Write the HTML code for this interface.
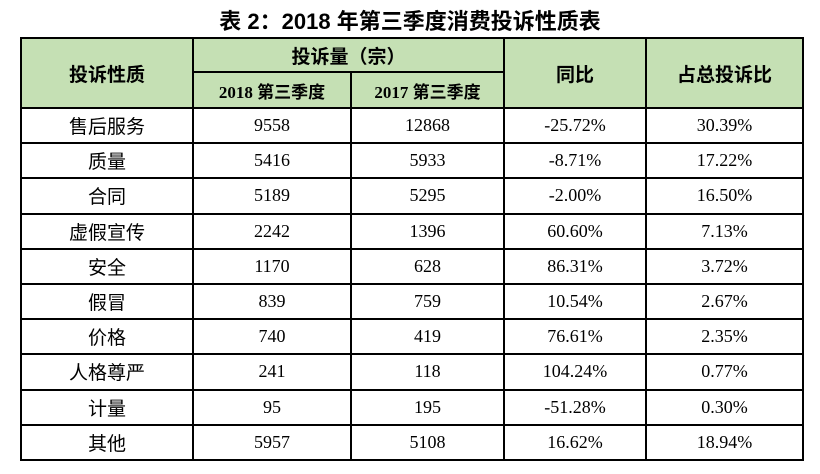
<!DOCTYPE html>
<html><head><meta charset="utf-8"><style>
body{margin:0;width:820px;height:474px;background:#fff;overflow:hidden;position:relative;font-family:"Liberation Serif","Noto Serif CJK SC",serif;}
.title{position:absolute;left:0;width:820px;top:4px;text-align:center;font:bold 22px "Liberation Sans","Noto Sans CJK SC",sans-serif;color:#000;}
table{position:absolute;left:20px;top:37px;border-collapse:collapse;table-layout:fixed;}
td{border:2px solid #000;text-align:center;padding:0;color:#000;}
.h td,td.h{background:#c5e0b4;font:bold 19px "Liberation Sans","Noto Sans CJK SC",sans-serif;}
.sub{font:bold 17px "Liberation Serif","Noto Sans CJK SC",serif !important;}
.r td{height:33.2px;font-size:18px;}
.r td.c{font:19px "Liberation Sans","Noto Sans CJK SC",sans-serif;}
</style></head><body>
<div class="title">表 2：2018 年第三季度消费投诉性质表</div>
<table>
<colgroup><col style="width:172px"><col style="width:158px"><col style="width:153px"><col style="width:142px"><col style="width:157px"></colgroup>
<tr class="h" style="height:34px"><td rowspan="2">投诉性质</td><td colspan="2">投诉量（宗）</td><td rowspan="2">同比</td><td rowspan="2">占总投诉比</td></tr>
<tr class="h" style="height:36px"><td class="sub">2018 第三季度</td><td class="sub">2017 第三季度</td></tr>
<tbody id="body"></tbody>
</table>
<script>
const categories=["售后服务","质量","合同","虚假宣传","安全","假冒","价格","人格尊严","计量","其他"];
const v2018=[9558,5416,5189,2242,1170,839,740,241,95,5957];
const v2017=[12868,5933,5295,1396,628,759,419,118,195,5108];
const yoy=["-25.72%","-8.71%","-2.00%","60.60%","86.31%","10.54%","76.61%","104.24%","-51.28%","16.62%"];
const share=["30.39%","17.22%","16.50%","7.13%","3.72%","2.67%","2.35%","0.77%","0.30%","18.94%"];
const tb=document.getElementById('body');
categories.forEach((c,i)=>{
  const tr=document.createElement('tr');tr.className='r';
  
  
  [c,v2018[i],v2017[i],yoy[i],share[i]].forEach((v,j)=>{
    const td=document.createElement('td');td.textContent=v;
    if(j===0)td.className='c';
    
    
    tr.appendChild(td);
  });
  tb.appendChild(tr);
});
</script>
</body></html>
